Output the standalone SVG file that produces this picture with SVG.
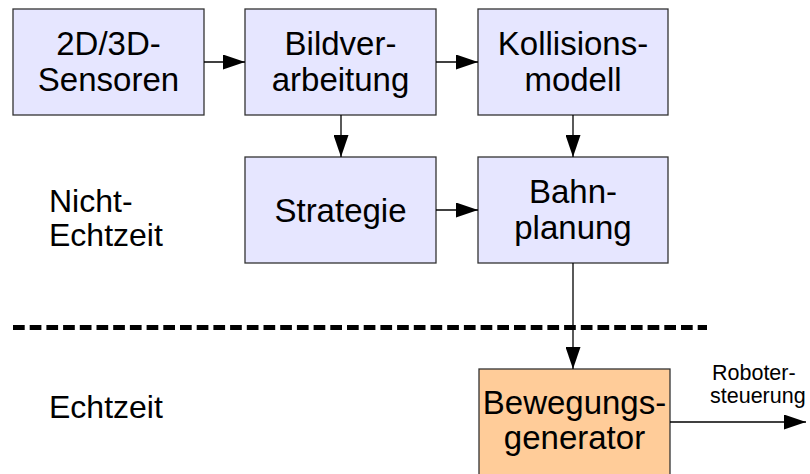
<svg xmlns="http://www.w3.org/2000/svg" width="810" height="474" viewBox="0 0 810 474">
<defs>
<style>
.box{fill:#e6e6ff;stroke:#333;stroke-width:1.3}
.rt{fill:#ffcc99;stroke:#333;stroke-width:1.3}
.t{font-family:"Liberation Sans",Arial,sans-serif;font-size:33px;fill:#000;text-anchor:middle}
.l{font-family:"Liberation Sans",Arial,sans-serif;font-size:32px;fill:#000}
.s{font-family:"Liberation Sans",Arial,sans-serif;font-size:21.5px;fill:#000}
.c{stroke:#000;stroke-width:1.3;fill:none;marker-end:url(#ah)}
</style>
<marker id="ah" markerWidth="22" markerHeight="15" refX="22" refY="7.5" orient="auto" markerUnits="userSpaceOnUse">
<path d="M0,0 L22,7.5 L0,15 Z" fill="#000"/>
</marker>
</defs>
<rect width="810" height="474" fill="#fff"/>
<g id="n1"><rect class="box" x="13" y="9" width="191" height="106"/><text class="t" x="108.5" y="55">2D/3D-</text><text class="t" x="108.5" y="91">Sensoren</text></g>
<g id="n2"><rect class="box" x="245" y="9" width="191" height="106"/><text class="t" x="340.5" y="55">Bildver-</text><text class="t" x="340.5" y="91">arbeitung</text></g>
<g id="n3"><rect class="box" x="478" y="9" width="190" height="106"/><text class="t" x="573" y="55">Kollisions-</text><text class="t" x="573" y="91">modell</text></g>
<g id="n4"><rect class="box" x="245" y="157" width="191" height="106"/><text class="t" x="340.5" y="222">Strategie</text></g>
<g id="n5"><rect class="box" x="478" y="157" width="190" height="106"/><text class="t" x="573" y="203">Bahn-</text><text class="t" x="573" y="239">planung</text></g>
<g id="n6"><rect class="rt" x="479" y="369" width="191" height="112"/><text class="t" x="574.5" y="414">Bewegungs-</text><text class="t" x="574.5" y="449">generator</text></g>
<g id="labels">
<text class="l" x="49" y="212">Nicht-</text>
<text class="l" x="49" y="246">Echtzeit</text>
<text class="l" x="49" y="418">Echtzeit</text>
<text class="s" x="712" y="380">Roboter-</text>
<text class="s" x="710" y="403">steuerung</text>
</g>
<line x1="13" y1="327.5" x2="707" y2="327.5" stroke="#000" stroke-width="5" stroke-dasharray="11.7 5"/>
<g id="connectors">
<line class="c" x1="204" y1="62" x2="245" y2="62"/>
<line class="c" x1="436" y1="62" x2="478" y2="62"/>
<line class="c" x1="341" y1="115" x2="341" y2="157"/>
<line class="c" x1="573" y1="115" x2="573" y2="157"/>
<line class="c" x1="436" y1="210" x2="478" y2="210"/>
<line class="c" x1="573" y1="263" x2="573" y2="369"/>
<line class="c" x1="670" y1="422" x2="806" y2="422"/>
</g>
</svg>
